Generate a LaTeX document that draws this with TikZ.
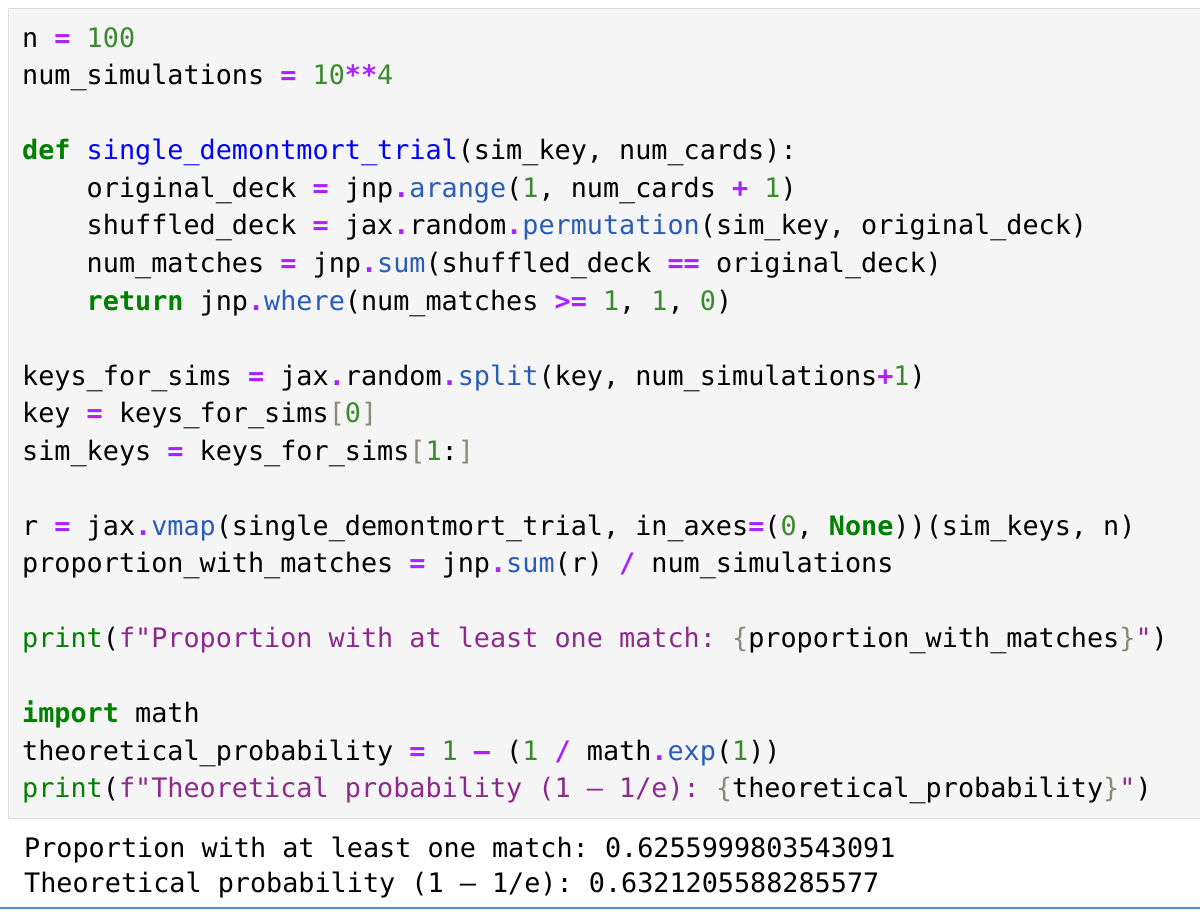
\documentclass[tikz,border=0pt]{standalone}
\usepackage{fontspec}
\setmonofont{DejaVu Sans Mono}
\definecolor{kwgreen}{HTML}{008000}
\definecolor{numgreen}{HTML}{3A8A2E}
\definecolor{oppurple}{HTML}{AA22FF}
\definecolor{fnblue}{HTML}{0000FF}
\definecolor{attrblue}{HTML}{2A5DB8}
\definecolor{strpurple}{HTML}{8B2B8B}
\definecolor{brgray}{HTML}{8A8A7A}
\definecolor{cellgray}{HTML}{F5F5F5}
\definecolor{cellline}{HTML}{DDDDDD}
\definecolor{barblue}{HTML}{4A8FD0}
\newcommand\kw[1]{\textcolor{kwgreen}{\bfseries #1}}
\newcommand\nm[1]{\textcolor{numgreen}{#1}}
\newcommand\op[1]{\textcolor{oppurple}{\bfseries #1}}
\newcommand\fn[1]{\textcolor{fnblue}{#1}}
\newcommand\at[1]{\textcolor{attrblue}{#1}}
\newcommand\st[1]{\textcolor{strpurple}{#1}}
\newcommand\br[1]{\textcolor{brgray}{#1}}
\newcommand\bi[1]{\textcolor{kwgreen}{#1}}
\tikzset{codeline/.style={anchor=base west, inner sep=0pt, font=\ttfamily\fontsize{26.8}{30}\selectfont}}
\begin{document}
\begin{tikzpicture}[x=1pt, y=1pt]
  \useasboundingbox (0,0) rectangle (1200,-912);
  % Zelle
  \draw[cellline, fill=cellgray] (8,-8) rectangle (1215,-818);
  \draw[barblue, line width=2pt] (0,-908) -- (1200,-908);

  % Code
  \node[codeline] (l1) at (22,-47.5) {n \op{=} \nm{100}};
  \node[codeline] (l2) at (22,-85) {num\_simulations \op{=} \nm{10}\op{**}\nm{4}};
  \node[codeline] (l4) at (22,-160) {\kw{def} \fn{single\_demontmort\_trial}(sim\_key, num\_cards):};
  \node[codeline] (l5) at (22,-197.5) {\ \ \ \ original\_deck \op{=} jnp\op{.}\at{arange}(\nm{1}, num\_cards \op{+} \nm{1})};
  \node[codeline] (l6) at (22,-235) {\ \ \ \ shuffled\_deck \op{=} jax\op{.}random\op{.}\at{permutation}(sim\_key, original\_deck)};
  \node[codeline] (l7) at (22,-272.5) {\ \ \ \ num\_matches \op{=} jnp\op{.}\at{sum}(shuffled\_deck \op{==} original\_deck)};
  \node[codeline] (l8) at (22,-310) {\ \ \ \ \kw{return} jnp\op{.}\at{where}(num\_matches \op{>=} \nm{1}, \nm{1}, \nm{0})};
  \node[codeline] (l10) at (22,-385) {keys\_for\_sims \op{=} jax\op{.}random\op{.}\at{split}(key, num\_simulations\op{+}\nm{1})};
  \node[codeline] (l11) at (22,-422.5) {key \op{=} keys\_for\_sims\br{[}\nm{0}\br{]}};
  \node[codeline] (l12) at (22,-460) {sim\_keys \op{=} keys\_for\_sims\br{[}\nm{1}:\br{]}};
  \node[codeline] (l14) at (22,-535) {r \op{=} jax\op{.}\at{vmap}(single\_demontmort\_trial, in\_axes\op{=}(\nm{0}, \kw{None}))(sim\_keys, n)};
  \node[codeline] (l15) at (22,-572.5) {proportion\_with\_matches \op{=} jnp\op{.}\at{sum}(r) \op{/} num\_simulations};
  \node[codeline] (l17) at (22,-647.5) {\bi{print}(\st{f"Proportion with at least one match: }\br{\{}proportion\_with\_matches\br{\}}\st{"})};
  \node[codeline] (l19) at (22,-722.5) {\kw{import} math};
  \node[codeline] (l20) at (22,-760) {theoretical\_probability \op{=} \nm{1} \op{–} (\nm{1} \op{/} math\op{.}\at{exp}(\nm{1}))};
  \node[codeline] (l21) at (22,-797.5) {\bi{print}(\st{f"Theoretical probability (1 – 1/e): }\br{\{}theoretical\_probability\br{\}}\st{"})};

  % Ausgabe
  \node[codeline] (o1) at (24,-857) {Proportion with at least one match: 0.6255999803543091};
  \node[codeline] (o2) at (24,-892) {Theoretical probability (1 – 1/e): 0.6321205588285577};
\end{tikzpicture}
\end{document}
